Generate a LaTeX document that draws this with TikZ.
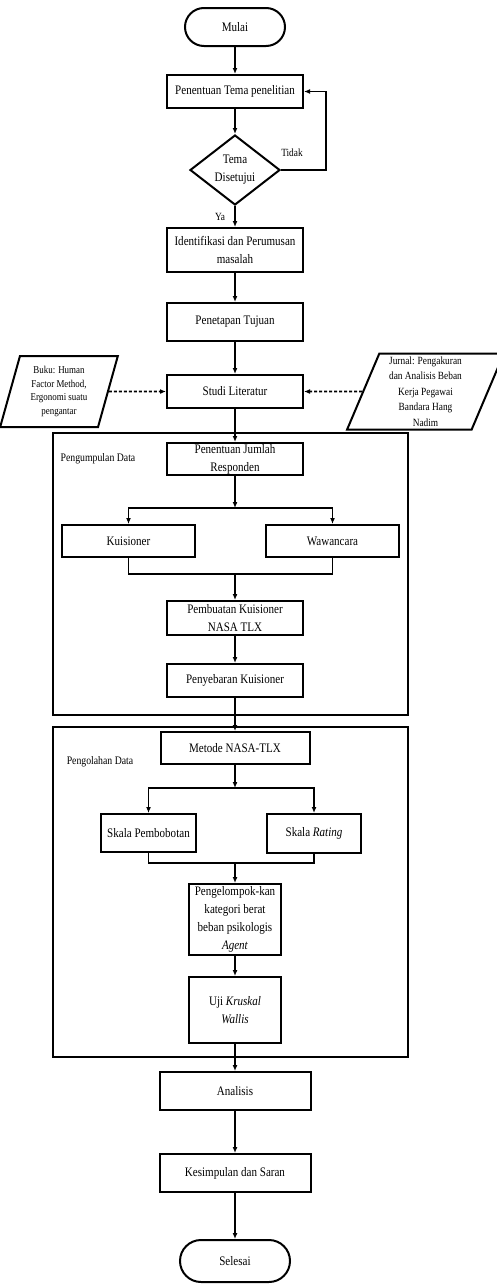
\documentclass[tikz,border=0pt]{standalone}
\usepackage{fontspec}
\setmainfont{Liberation Serif}[FakeStretch=0.85]
\usetikzlibrary{arrows.meta,shapes.geometric}

\begin{document}
\begin{tikzpicture}[x=1pt,y=-1pt,
	box/.style={draw,line width=2pt,inner sep=0pt,align=center,minimum width=136pt,minimum height=33pt,font=\fontsize{13}{18}\selectfont},
	term/.style={box,rounded corners=19pt},
	dec/.style={diamond,draw,line width=2pt,inner sep=0pt,minimum width=90pt,minimum height=70pt,align=center,font=\fontsize{13}{18}\selectfont},
	para/.style={trapezium,trapezium stretches=true,draw,line width=2pt,inner sep=0pt,align=center},
	frame/.style={draw,line width=2pt},
	lbl/.style={font=\fontsize{11}{13}\selectfont},
	arr/.style={line width=1.8pt,-{Latex[length=6pt,width=5pt]}},
	dasharr/.style={arr,dash pattern=on 3pt off 2pt}]
	\useasboundingbox (0,0) rectangle (497,1288);
	% alur awal
	\node[term,minimum width=100pt,minimum height=38pt] (mulai) at (235,27) {Mulai};
	\node[box] (tema) at (235,91.5) {Penentuan Tema penelitian};
	\node[dec] (setuju) at (235,170) {Tema\\Disetujui};
	\node[box,minimum height=44pt] (ident) at (235,250) {Identifikasi dan Perumusan\\masalah};
	\node[box,minimum height=38pt] (tujuan) at (235,322) {Penetapan Tujuan};
	\node[box] (studi) at (235,391.5) {Studi Literatur};
	\node[para,trapezium left angle=74,trapezium right angle=106,minimum width=118pt,minimum height=71pt,font=\fontsize{10.5}{13.5}\selectfont] (buku) at (59,391.5) {Buku: Human\\Factor Method,\\Ergonomi suatu\\pengantar};
	\node[para,trapezium left angle=70,trapezium right angle=110,minimum width=157pt,minimum height=76pt,font=\fontsize{11}{15.5}\selectfont] (jurnal) at (425.5,391.5) {Jurnal: Pengakuran\\dan Analisis Beban\\Kerja Pegawai\\Bandara Hang\\Nadim};
	\node[lbl] (tidak) at (292,153) {Tidak};
	\node[lbl] (ya) at (220,217) {Ya};
	% pengumpulan data
	\draw[frame] (53,433) rectangle (408,715);
	\node[lbl,font=\fontsize{11.5}{13}\selectfont] (kumpul) at (98,459) {Pengumpulan Data};
	\node[box,minimum height=32pt] (respon) at (235,459) {Penentuan Jumlah\\Responden};
	\node[box,minimum width=133pt,minimum height=32pt] (kuis) at (128.5,541) {Kuisioner};
	\node[box,minimum width=133pt,minimum height=32pt] (wawan) at (332.5,541) {Wawancara};
	\node[box,minimum height=34pt] (buat) at (235,618) {Pembuatan Kuisioner\\NASA TLX};
	\node[box] (sebar) at (235,680.5) {Penyebaran Kuisioner};
	\coordinate (bagi1) at (235,508);
	\coordinate (gabung1) at (235,574);
	% pengolahan data
	\draw[frame] (53,727) rectangle (408,1057);
	\node[lbl,font=\fontsize{11.5}{13}\selectfont] (olah) at (100,762) {Pengolahan Data};
	\node[box,minimum width=149pt,minimum height=32pt] (metode) at (235,748) {Metode NASA-TLX};
	\node[box,minimum width=95pt,minimum height=38pt] (bobot) at (148.5,833) {Skala Pembobotan};
	\node[box,minimum width=94pt,minimum height=39pt] (rating) at (314,833.5) {Skala \textit{Rating}};
	\node[box,minimum width=92pt,minimum height=71pt] (kelompok) at (235,919.5) {Pengelompok-kan\\kategori berat\\beban psikologis\\\textit{Agent}};
	\node[box,minimum width=92pt,minimum height=66pt] (uji) at (235,1010) {Uji \textit{Kruskal}\\\textit{Wallis}};
	\coordinate (bagi2) at (235,788);
	\coordinate (gabung2) at (235,863);
	% alur akhir
	\node[box,minimum width=151pt,minimum height=38pt] (analisis) at (235,1091) {Analisis};
	\node[box,minimum width=151pt,minimum height=38pt] (simpul) at (235,1173) {Kesimpulan dan Saran};
	\node[term,minimum width=110pt,minimum height=42pt,rounded corners=21pt] (selesai) at (235,1261) {Selesai};
	% panah
	\draw[arr] (mulai) -- (tema);
	\draw[arr] (tema) -- (setuju);
	\draw[arr] (setuju.east) -- ++(45,0) |- (tema.east);
	\draw[arr] (setuju) -- (ident);
	\draw[arr] (ident) -- (tujuan);
	\draw[arr] (tujuan) -- (studi);
	\draw[dasharr] (buku) -- (studi);
	\draw[dasharr] (jurnal) -- (studi);
	\draw[arr] (studi) -- (respon);
	\draw[arr] (respon) -- (bagi1);
	\draw[arr] (bagi1) -| (kuis);
	\draw[arr] (bagi1) -| (wawan);
	\draw[line width=1.8pt] (kuis) |- (gabung1) -| (wawan);
	\draw[arr] (gabung1) -- (buat);
	\draw[arr] (buat) -- (sebar);
	\draw[arr] (sebar) -- (metode);
	\draw[arr] (metode) -- (bagi2);
	\draw[arr] (bagi2) -| (bobot);
	\draw[arr] (bagi2) -| (rating);
	\draw[line width=1.8pt] (bobot) |- (gabung2) -| (rating);
	\draw[arr] (gabung2) -- (kelompok);
	\draw[arr] (kelompok) -- (uji);
	\draw[arr] (uji) -- (analisis);
	\draw[arr] (analisis) -- (simpul);
	\draw[arr] (simpul) -- (selesai);
\end{tikzpicture}
\end{document}
